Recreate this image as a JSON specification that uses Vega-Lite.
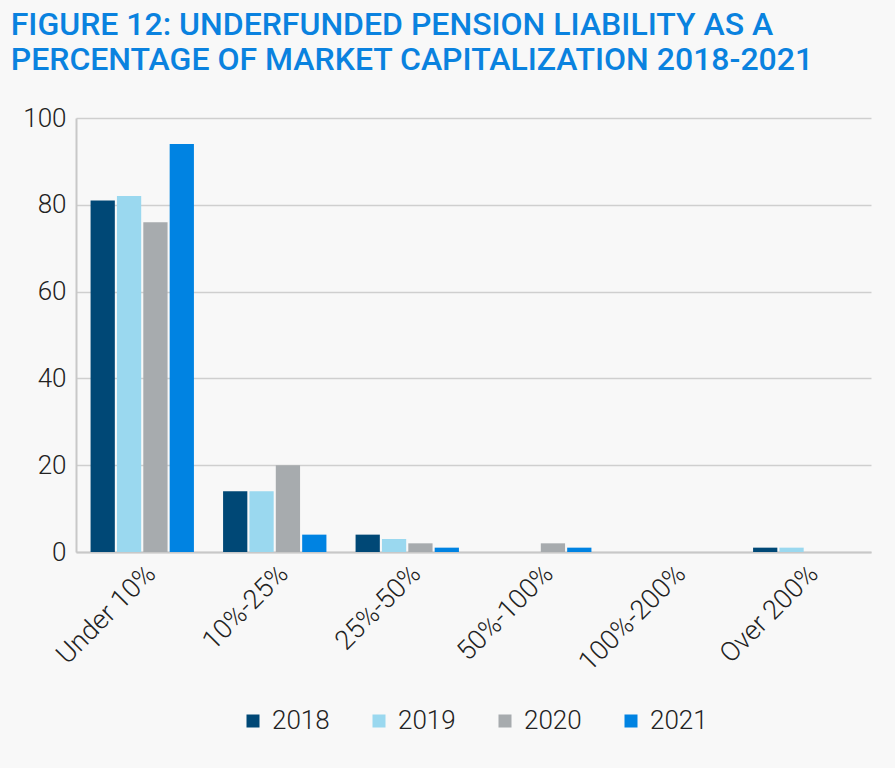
{
  "$schema": "https://vega.github.io/schema/vega-lite/v6.json",
  "autosize": "none",
  "width": 795,
  "height": 434,
  "padding": {"left": 76, "top": 118, "right": 24, "bottom": 216},
  "background": "#f8f8f8",
  "title": {
    "text": ["FIGURE 12: UNDERFUNDED PENSION LIABILITY AS A", "PERCENTAGE OF MARKET CAPITALIZATION 2018-2021"],
    "anchor": "start",
    "dx": -12,
    "offset": 28,
    "font": "Roboto",
    "fontSize": 32,
    "fontWeight": 500,
    "lineHeight": 35,
    "color": "#0a82df"
  },
  "data": {
    "values": [
      {"range": "Under 10%", "year": "2018", "value": 81},
      {"range": "Under 10%", "year": "2019", "value": 82},
      {"range": "Under 10%", "year": "2020", "value": 76},
      {"range": "Under 10%", "year": "2021", "value": 94},
      {"range": "10%-25%", "year": "2018", "value": 14},
      {"range": "10%-25%", "year": "2019", "value": 14},
      {"range": "10%-25%", "year": "2020", "value": 20},
      {"range": "10%-25%", "year": "2021", "value": 4},
      {"range": "25%-50%", "year": "2018", "value": 4},
      {"range": "25%-50%", "year": "2019", "value": 3},
      {"range": "25%-50%", "year": "2020", "value": 2},
      {"range": "25%-50%", "year": "2021", "value": 1},
      {"range": "50%-100%", "year": "2018", "value": 0},
      {"range": "50%-100%", "year": "2019", "value": 0},
      {"range": "50%-100%", "year": "2020", "value": 2},
      {"range": "50%-100%", "year": "2021", "value": 1},
      {"range": "100%-200%", "year": "2018", "value": 0},
      {"range": "100%-200%", "year": "2019", "value": 0},
      {"range": "100%-200%", "year": "2020", "value": 0},
      {"range": "100%-200%", "year": "2021", "value": 0},
      {"range": "Over 200%", "year": "2018", "value": 1},
      {"range": "Over 200%", "year": "2019", "value": 1},
      {"range": "Over 200%", "year": "2020", "value": 0},
      {"range": "Over 200%", "year": "2021", "value": 0}
    ]
  },
  "mark": {"type": "bar"},
  "encoding": {
    "x": {
      "field": "range", "type": "nominal",
      "sort": ["Under 10%", "10%-25%", "25%-50%", "50%-100%", "100%-200%", "Over 200%"],
      "scale": {"paddingInner": 0.22, "paddingOuter": 0.11},
      "axis": {
        "title": null, "labelAngle": -45, "ticks": false, "labelPadding": 8,
        "labelFont": "Roboto", "labelFontWeight": 300, "labelFontSize": 27, "labelColor": "#222222",
        "domainColor": "#c8c8c8", "domainWidth": 2
      }
    },
    "xOffset": {"field": "year", "type": "nominal", "scale": {"paddingInner": 0.08}},
    "y": {
      "field": "value", "type": "quantitative",
      "scale": {"domain": [0, 100]},
      "axis": {
        "title": null, "values": [0, 20, 40, 60, 80, 100], "ticks": false, "labelPadding": 10,
        "labelFont": "Roboto", "labelFontWeight": 300, "labelFontSize": 26, "labelColor": "#222222",
        "gridColor": "#cfcfcf", "gridWidth": 1.5, "domain": true, "domainColor": "#c8c8c8", "domainWidth": 2
      }
    },
    "color": {
      "field": "year", "type": "nominal",
      "scale": {"range": ["#004876", "#9ad8ef", "#a7abae", "#0083e2"]},
      "legend": {
        "title": null, "orient": "none", "direction": "horizontal", "legendX": 164, "legendY": 590,
        "symbolType": "square", "symbolSize": 169, "symbolStrokeWidth": 0,
        "labelFont": "Roboto", "labelFontWeight": 300, "labelFontSize": 26, "labelColor": "#222222",
        "columnPadding": 36, "labelOffset": 6
      }
    }
  },
  "config": {"view": {"stroke": null}}
}
